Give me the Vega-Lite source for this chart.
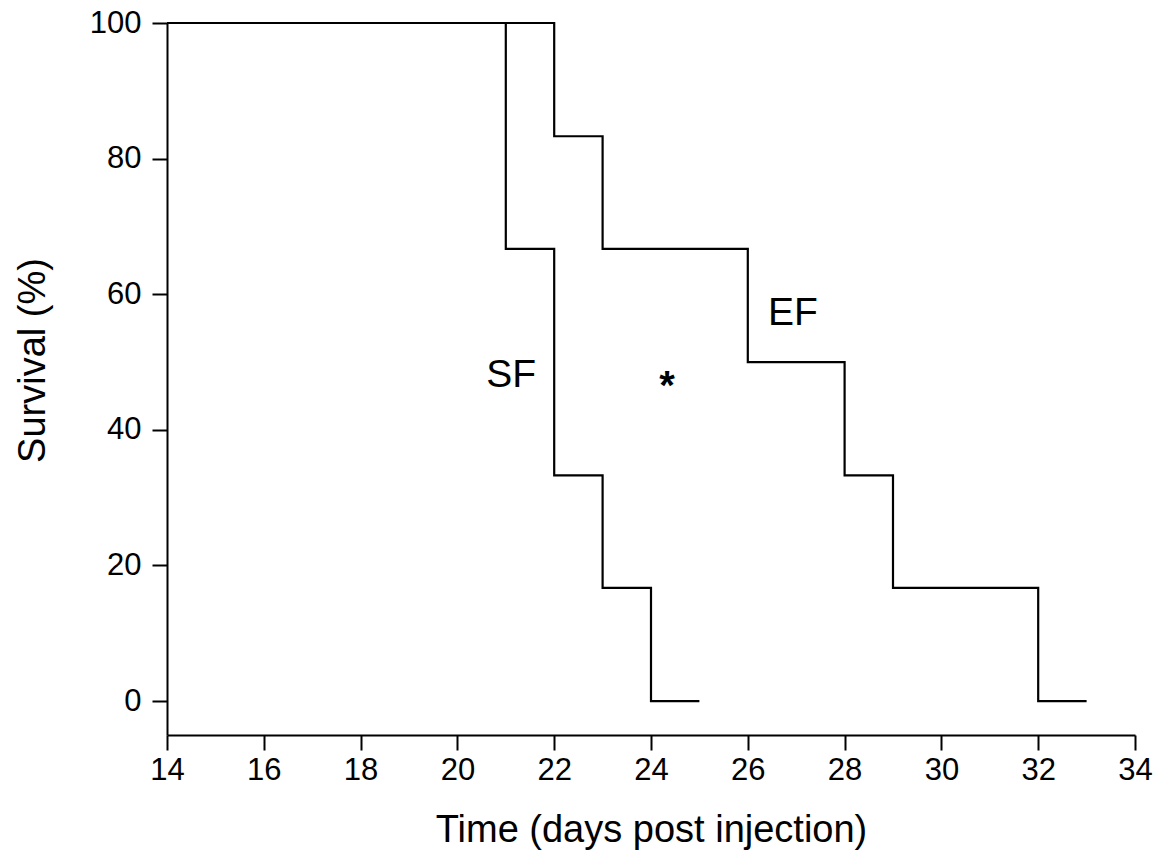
{
  "$schema": "https://vega.github.io/schema/vega-lite/v6.json",
  "width": 968,
  "height": 712,
  "autosize": "none",
  "padding": {"left": 167, "top": 23, "right": 24, "bottom": 120},
  "background": "white",
  "config": {
    "view": {"stroke": null},
    "font": "Liberation Sans",
    "axis": {
      "domainColor": "black",
      "domainWidth": 2,
      "tickColor": "black",
      "tickWidth": 2,
      "tickSize": 15,
      "grid": false,
      "labelFlush": false,
      "labelOverlap": false,
      "labelColor": "black",
      "labelFont": "Liberation Sans",
      "labelFontSize": 31,
      "titleColor": "black",
      "titleFont": "Liberation Sans",
      "titleFontSize": 38,
      "titleFontWeight": "normal"
    }
  },
  "datasets": {
    "curves": [
      {"group": "SF", "day": 14, "survival": 100},
      {"group": "SF", "day": 21, "survival": 66.7},
      {"group": "SF", "day": 22, "survival": 33.3},
      {"group": "SF", "day": 23, "survival": 16.7},
      {"group": "SF", "day": 24, "survival": 0},
      {"group": "SF", "day": 25, "survival": 0},
      {"group": "EF", "day": 14, "survival": 100},
      {"group": "EF", "day": 22, "survival": 83.3},
      {"group": "EF", "day": 23, "survival": 66.7},
      {"group": "EF", "day": 26, "survival": 50},
      {"group": "EF", "day": 28, "survival": 33.3},
      {"group": "EF", "day": 29, "survival": 16.7},
      {"group": "EF", "day": 32, "survival": 0},
      {"group": "EF", "day": 33, "survival": 0}
    ],
    "labels": [
      {"label": "SF", "day": 21.11, "survival": 46.3},
      {"label": "EF", "day": 26.93, "survival": 55.5}
    ],
    "marks": [
      {"label": "*", "day": 24.33, "survival": 44.6}
    ]
  },
  "layer": [
    {
      "data": {"name": "curves"},
      "mark": {"type": "line", "interpolate": "step-after", "color": "black", "strokeWidth": 2.2},
      "encoding": {
        "x": {
          "field": "day", "type": "quantitative",
          "scale": {"domain": [14, 34], "nice": false, "zero": false},
          "axis": {
            "values": [14, 16, 18, 20, 22, 24, 26, 28, 30, 32, 34],
            "title": "Time (days post injection)",
            "labelPadding": 5,
            "titleY": 106,
            "titleBaseline": "alphabetic"
          }
        },
        "y": {
          "field": "survival", "type": "quantitative",
          "scale": {"domain": [-5, 100], "nice": false, "zero": false},
          "axis": {
            "values": [0, 20, 40, 60, 80, 100],
            "title": "Survival (%)",
            "labelPadding": 11,
            "titleX": -123,
            "titleY": 337,
            "titleAlign": "center",
            "titleBaseline": "alphabetic",
            "titleAngle": -90
          }
        },
        "detail": {"field": "group"}
      }
    },
    {
      "data": {"name": "labels"},
      "mark": {"type": "text", "font": "Liberation Sans", "fontSize": 39, "color": "black", "align": "center", "baseline": "alphabetic"},
      "encoding": {
        "x": {"field": "day", "type": "quantitative"},
        "y": {"field": "survival", "type": "quantitative"},
        "text": {"field": "label"}
      }
    },
    {
      "data": {"name": "marks"},
      "mark": {"type": "text", "font": "Liberation Sans", "fontSize": 40, "fontWeight": "bold", "color": "black", "align": "center", "baseline": "alphabetic"},
      "encoding": {
        "x": {"field": "day", "type": "quantitative"},
        "y": {"field": "survival", "type": "quantitative"},
        "text": {"field": "label"}
      }
    }
  ]
}
